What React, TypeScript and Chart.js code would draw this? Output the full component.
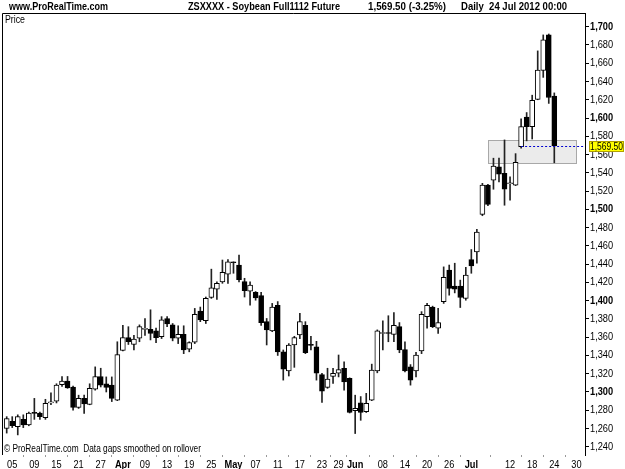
import React, { useEffect, useRef } from "react";
import { Chart, registerables } from "chart.js";

Chart.register(...registerables);

// ---- Data (daily OHLC, 2 Mar 2012 .. 24 Jul 2012) ----
const opens = [
  1260, 1268, 1262, 1270, 1264, 1277, 1277, 1272, 1288, 1290,
  1308, 1312, 1305.5, 1283, 1293, 1286.5, 1303, 1317, 1309, 1307.5,
  1291, 1345.5, 1359.5, 1352, 1359, 1368.5, 1368.5, 1367, 1360.5, 1380.5,
  1373.5, 1359, 1363, 1347, 1354.5, 1388.5, 1378, 1403.5, 1412.5, 1420.5,
  1429, 1442, 1439, 1421, 1410.5, 1409, 1405.5, 1377, 1367, 1395,
  1344, 1323, 1351.5, 1362.5, 1373, 1351.5, 1349.5, 1319, 1305, 1317,
  1320.5, 1326, 1315, 1279.5, 1288, 1278.5, 1291, 1323, 1364, 1364.5,
  1363, 1371.5, 1346.5, 1327.5, 1323, 1345, 1382.5, 1393, 1370, 1399,
  1433.5, 1416, 1416, 1402.5, 1445, 1453.5, 1494.5, 1526.5, 1532, 1546.5,
  1539.5, 1528, 1526.5, 1568.5, 1601, 1590.5, 1620.5, 1652, 1691, 1624,
];
const highs = [
  1273, 1273, 1275, 1275, 1278, 1293, 1278, 1292, 1299, 1309,
  1317, 1317, 1306.5, 1296.5, 1296.5, 1309, 1327.5, 1326, 1316.5, 1316.5,
  1355, 1373, 1371.5, 1362, 1373.5, 1380.5, 1390, 1370, 1382.5, 1382.5,
  1375, 1372.5, 1372.5, 1355, 1391.5, 1393, 1404, 1434.5, 1420.5, 1444.5,
  1445, 1442.5, 1450, 1424.5, 1420.5, 1410, 1409, 1380.5, 1397, 1399,
  1346, 1353, 1361, 1386, 1377, 1361, 1355.5, 1320.5, 1326, 1326,
  1340.5, 1333, 1315.5, 1296.5, 1295, 1298.5, 1330.5, 1368, 1378, 1383.5,
  1387, 1376, 1355, 1330, 1343.5, 1388, 1397, 1394, 1391.5, 1437,
  1439, 1441, 1422.5, 1436.5, 1456, 1478, 1528.5, 1527.5, 1556, 1556,
  1576, 1535.5, 1561, 1599, 1606, 1625, 1673.5, 1691, 1692, 1627.5,
];
const lows = [
  1255, 1261, 1253, 1261, 1263, 1270, 1270, 1270, 1286, 1288,
  1306, 1304, 1280, 1282, 1276.5, 1286, 1302, 1305.5, 1300, 1289.5,
  1290.5, 1345, 1352, 1346, 1355, 1362, 1357, 1354, 1358.5, 1371.5,
  1356, 1353, 1342, 1344, 1353, 1377, 1375, 1402.5, 1401.5, 1419,
  1419, 1430, 1420.5, 1404, 1395, 1400.5, 1373, 1351.5, 1366, 1340,
  1313, 1317.5, 1327, 1358.5, 1342, 1346, 1313, 1288.5, 1304, 1309.5,
  1316.5, 1302, 1277, 1254.5, 1269, 1277.5, 1290.5, 1321, 1346, 1355,
  1355, 1343, 1322, 1307.5, 1316.5, 1342, 1370, 1370.5, 1364, 1397,
  1406, 1408.5, 1392.5, 1400.5, 1430, 1441, 1493, 1504, 1522, 1530,
  1504.5, 1510, 1526, 1567, 1575, 1577, 1620, 1644.5, 1616, 1551,
];
const closes = [
  1271, 1263, 1273, 1264, 1277, 1276.5, 1273, 1287.5, 1289, 1307.5,
  1312, 1304.5, 1283, 1293, 1287, 1304, 1317, 1307.5, 1305, 1293,
  1341, 1359.5, 1355, 1358, 1371.5, 1369, 1364, 1359.5, 1379, 1374.5,
  1359, 1363, 1346, 1354, 1385, 1379, 1402.5, 1414, 1419, 1431,
  1442.5, 1441.5, 1423, 1411, 1417, 1403, 1376, 1368, 1393, 1344,
  1325, 1351.5, 1359.5, 1377, 1343, 1351, 1320.5, 1301, 1314, 1320.5,
  1324.5, 1311, 1277.5, 1282, 1277.5, 1287.5, 1324, 1367, 1364.5, 1364,
  1373, 1346, 1323, 1313, 1340.5, 1385, 1395, 1371.5, 1376, 1425.5,
  1413.5, 1412.5, 1403.5, 1428, 1438, 1475, 1526.5, 1505.5, 1547.5, 1538.5,
  1522, 1528.5, 1551.5, 1590.5, 1590.5, 1619.5, 1652.5, 1685.5, 1622.5, 1569.5,
];

// x-axis labels at trading-day indices (index 0 = 2 Mar 2012)
const xTickIdx = [1, 5, 9, 13, 17, 21, 25, 29, 33, 37, 41, 45, 49, 53, 57, 60, 63, 68, 72, 76, 80, 84, 91, 95, 99, 103];
const xTickLabels = ["05", "09", "15", "21", "27", "Apr", "09", "13", "19", "25", "May", "07", "11", "17", "23", "29", "Jun", "08", "14", "20", "26", "Jul", "12", "18", "24", "30"];
const monthLabels = ["Apr", "May", "Jun", "Jul"];

const lastPrice = 1569.5;
const lastLineFromIdx = 93;
const rangeBoxIdx = [87, 103];
const rangeBoxPrice = [1551, 1576];

const titleLeft = "www.ProRealTime.com";
const titleMain = "ZSXXXX - Soybean Full1112 Future";
const titlePrice = "1,569.50 (-3.25%)";
const titleDate = "Daily  24 Jul 2012 00:00";
const footerText = "\u00a9 ProRealTime.com  Data gaps smoothed on rollover";

const FONT = "'Liberation Sans', Arial, sans-serif";
const SQUEEZE = 0.84;

function fmt(v: number, dec = 0) {
  return v.toLocaleString("en-US", { minimumFractionDigits: dec, maximumFractionDigits: dec });
}

function fitText(ctx: CanvasRenderingContext2D, text: string, x: number, y: number, w: number) {
  const m = ctx.measureText(text).width || 1;
  ctx.save();
  ctx.translate(x, y);
  ctx.scale(w / m, 1);
  ctx.fillText(text, 0, 0);
  ctx.restore();
}

// draw tick labels horizontally condensed (narrow font look)
function condenseLabels(scale: any) {
  if (scale.__condensed) return;
  scale.__condensed = true;
  const orig = scale.drawLabels.bind(scale);
  scale.drawLabels = (area: any) => {
    const ctx = scale.ctx as CanvasRenderingContext2D;
    const origFill = ctx.fillText;
    (ctx as any).fillText = function (t: string, x: number, y: number, mw?: number) {
      this.save();
      this.scale(SQUEEZE, 1);
      origFill.call(this, t, x / SQUEEZE, y);
      this.restore();
    };
    try {
      orig(area);
    } finally {
      (ctx as any).fillText = origFill;
    }
  };
}

export default function App() {
  const ref = useRef<HTMLCanvasElement | null>(null);

  useEffect(() => {
    const canvas = ref.current;
    if (!canvas) return;

    const bodies = opens.map((o, i) => ({ x: i, y: [Math.min(o, closes[i]), Math.max(o, closes[i])] }));
    const wicks = lows.map((l, i) => ({ x: i, y: [l, highs[i]] }));
    const bodyColors = opens.map((o, i) => (closes[i] >= o ? "#ffffff" : "#000000"));

    const overlay = {
      id: "overlay",
      afterLayout(chart: any) {
        condenseLabels(chart.scales.x);
        condenseLabels(chart.scales.y);
      },
      beforeDatasetsDraw(chart: any) {
        const { ctx, scales } = chart;
        const x = scales.x, y = scales.y;
        const x0 = Math.round(x.getPixelForValue(rangeBoxIdx[0]));
        const x1 = Math.round(x.getPixelForValue(rangeBoxIdx[1]));
        const y0 = Math.round(y.getPixelForValue(rangeBoxPrice[1]));
        const y1 = Math.round(y.getPixelForValue(rangeBoxPrice[0]));
        ctx.save();
        ctx.fillStyle = "#ebebeb";
        ctx.fillRect(x0, y0, x1 - x0, y1 - y0);
        ctx.strokeStyle = "#a8a8a8";
        ctx.lineWidth = 1;
        ctx.strokeRect(x0 + 0.5, y0 + 0.5, x1 - x0, y1 - y0);
        ctx.restore();
      },
      afterDatasetsDraw(chart: any) {
        const { ctx, scales, chartArea } = chart;
        const yy = Math.round(scales.y.getPixelForValue(lastPrice)) + 0.5;
        const xs = scales.x.getPixelForValue(lastLineFromIdx);
        ctx.save();
        ctx.strokeStyle = "#0000d0";
        ctx.lineWidth = 1;
        ctx.setLineDash([2, 2]);
        ctx.beginPath();
        ctx.moveTo(xs, yy);
        ctx.lineTo(chartArea.right, yy);
        ctx.stroke();
        ctx.restore();
      },
      afterDraw(chart: any) {
        const { ctx, scales, chartArea } = chart;
        ctx.save();
        // frame
        ctx.strokeStyle = "#000";
        ctx.lineWidth = 1;
        ctx.beginPath();
        ctx.moveTo(chartArea.left + 0.5, chartArea.bottom);
        ctx.lineTo(chartArea.left + 0.5, chartArea.top + 0.5);
        ctx.lineTo(chartArea.right, chartArea.top + 0.5);
        ctx.stroke();
        // texts
        ctx.fillStyle = "#000";
        ctx.textBaseline = "middle";
        ctx.textAlign = "left";
        ctx.font = "bold 11px " + FONT;
        fitText(ctx, titleLeft, 9, 7, 99);
        fitText(ctx, titleMain, 188, 7, 152);
        fitText(ctx, titlePrice, 368, 7, 78);
        fitText(ctx, titleDate, 461, 7, 106);
        ctx.font = "10px " + FONT;
        fitText(ctx, "Price", 5, 20, 20);
        fitText(ctx, footerText, 4, 449, 197);
        // last price label
        const yy = Math.round(scales.y.getPixelForValue(lastPrice));
        const lx = Math.round(chartArea.right) + 4;
        ctx.fillStyle = "#ffff00";
        ctx.fillRect(lx, yy - 5, 35, 11);
        ctx.strokeStyle = "#b0a000";
        ctx.strokeRect(lx + 0.5, yy - 5 + 0.5, 34, 10);
        ctx.fillStyle = "#000";
        ctx.font = "11px " + FONT;
        fitText(ctx, fmt(lastPrice, 2), lx + 1, yy + 0.5, 33);
        ctx.restore();
      },
    };

    const chart = new Chart(canvas, {
      type: "bar",
      data: {
        datasets: [
          {
            label: "body",
            data: bodies as any,
            backgroundColor: bodyColors,
            borderColor: "#000000",
            borderWidth: 1,
            borderSkipped: false,
            barThickness: 5,
            minBarLength: 1,
            grouped: false,
            order: 0,
          } as any,
          {
            label: "wick",
            data: wicks as any,
            backgroundColor: "#222222",
            borderWidth: 0,
            barThickness: 1,
            grouped: false,
            order: 1,
          } as any,
        ],
      },
      options: {
        responsive: false,
        animation: false,
        devicePixelRatio: 1,
        layout: { padding: { left: 2, top: 13, right: 0, bottom: 0 } },
        plugins: { legend: { display: false }, tooltip: { enabled: false }, title: { display: false } },
        scales: {
          x: {
            type: "linear",
            offset: false,
            min: -0.85,
            max: 104.55,
            afterBuildTicks: (s: any) => {
              s.ticks = xTickIdx.map((v) => ({ value: v }));
            },
            afterFit: (s: any) => {
              s.height = 14;
            },
            grid: { drawOnChartArea: false, drawTicks: true, tickLength: 2, color: "#999" },
            border: { display: false },
            ticks: {
              autoSkip: false,
              maxRotation: 0,
              padding: 1,
              color: "#000",
              font: (c: any) => ({
                family: FONT,
                size: 11,
                weight: c.tick && monthLabels.includes(xTickLabels[xTickIdx.indexOf(c.tick.value)]) ? "bold" : "normal",
              }),
              callback: (v: any) => {
                const k = xTickIdx.indexOf(Number(v));
                return k >= 0 ? xTickLabels[k] : "";
              },
            },
          } as any,
          y: {
            type: "linear",
            position: "right",
            min: 1231,
            max: 1715,
            beginAtZero: false,
            afterBuildTicks: (s: any) => {
              const t = [];
              for (let v = 1240; v <= 1710; v += 10) t.push({ value: v });
              s.ticks = t;
            },
            afterFit: (s: any) => {
              s.width = 40;
            },
            grid: {
              drawOnChartArea: false,
              drawTicks: true,
              tickLength: 4,
              color: (c: any) => (c.tick && c.tick.value % 20 === 0 ? "#000" : "#999"),
            },
            border: { display: true, color: "#000" },
            ticks: {
              padding: 1,
              color: "#000",
              font: (c: any) => ({
                family: FONT,
                size: 11,
                weight: c.tick && c.tick.value % 100 === 0 ? "bold" : "normal",
              }),
              callback: (v: any) => (Number(v) % 20 === 0 ? fmt(Number(v)) : ""),
            },
          } as any,
        },
      },
      plugins: [overlay],
    });

    return () => chart.destroy();
  }, []);

  return (
    <div style={{ position: "fixed", left: 0, top: 0, width: 625, height: 469, background: "#fff" }}>
      <canvas ref={ref} width={625} height={469} style={{ display: "block" }} />
    </div>
  );
}
